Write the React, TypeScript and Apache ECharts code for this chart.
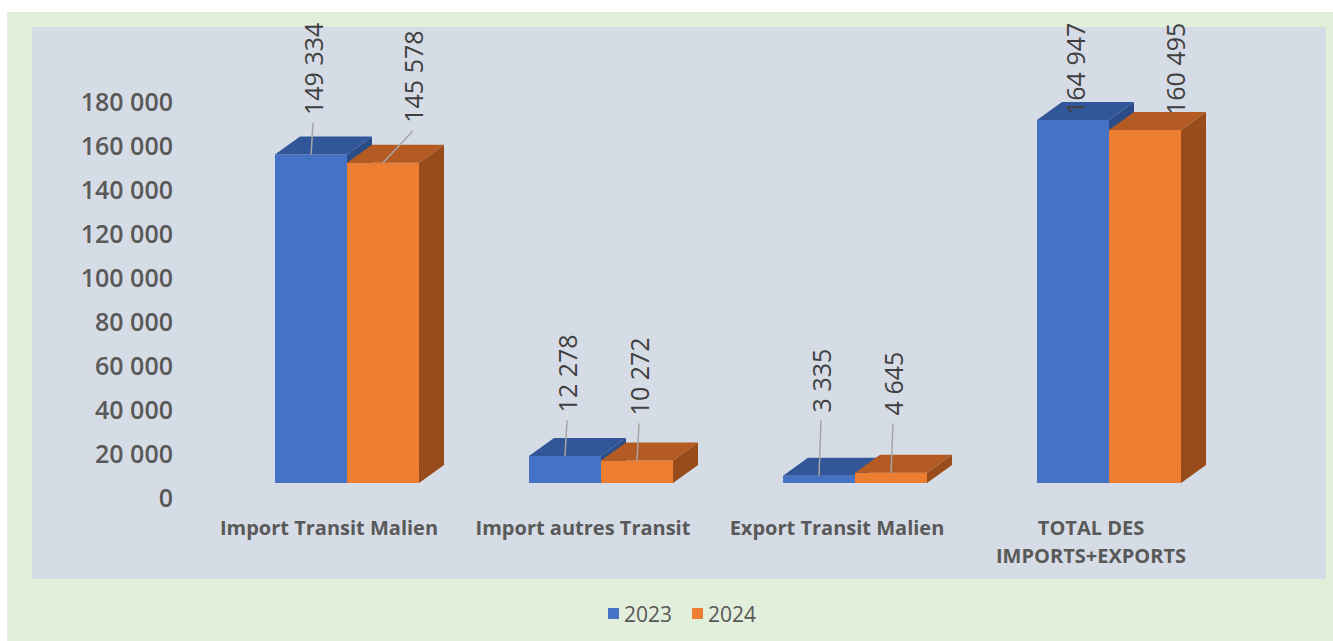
import React, { useEffect, useRef } from "react";
import * as echarts from "echarts";

const categories = [
  "Import Transit Malien",
  "Import autres Transit",
  "Export Transit Malien",
  "TOTAL DES\nIMPORTS+EXPORTS",
];
const seriesNames = ["2023", "2024"];
const values2023 = [149334, 12278, 3335, 164947];
const values2024 = [145578, 10272, 4645, 160495];
const yMax = 180000;
const yInterval = 20000;

const fmt = (v: number) => String(v).replace(/\B(?=(\d{3})+(?!\d))/g, " ");

const palette = [
  { front: "#4472c4", top: "#31579a", side: "#2b4c87" },
  { front: "#ed7d31", top: "#b35b22", side: "#984b1b" },
];

function makeRender(s: number) {
  return (params: any, api: any) => {
    const cat = api.value(0);
    const val = api.value(1);
    const [cx, y] = api.coord([cat, val]);
    const base = api.coord([cat, 0])[1];
    const band = api.size([1, 0])[0];
    const w = band * 0.2835;
    const shift = band * 0.0709;
    const x = s === 0 ? cx - w + shift : cx + shift;
    const dx = 25;
    const dy = 18;
    const c = palette[s];
    const backTop = y - dy;
    const yTop = api.coord([cat, yMax])[1];
    let lb = Math.min(backTop - 22, api.coord([cat, 33000])[1] + 2 + 3 * s);
    lb = Math.max(lb, yTop + 28);
    const lx = x + w / 2 + (s === 1 && val > 100000 ? 30 : 2);
    const children: any[] = [
      {
        type: "rect",
        shape: { x, y, width: w, height: base - y },
        style: { fill: c.front },
      },
      {
        type: "polygon",
        shape: {
          points: [
            [x + w, y],
            [x + w + dx, y - dy],
            [x + w + dx, base - dy],
            [x + w, base],
          ],
        },
        style: { fill: c.side },
      },
      {
        type: "polygon",
        shape: {
          points: [
            [x, y],
            [x + dx, y - dy],
            [x + w + dx, y - dy],
            [x + w, y],
          ],
        },
        style: { fill: c.top },
      },
    ];
    if (y - lb > 20) {
      children.push({
        type: "line",
        shape: { x1: lx, y1: lb + 8, x2: x + w / 2, y2: y },
        style: { stroke: "#a6a6a6", lineWidth: 1.5 },
      });
    }
    children.push({
      type: "text",
      x: lx,
      y: lb,
      rotation: Math.PI / 2,
      style: {
        text: fmt(val),
        fill: "#404040",
        fontSize: 25,
        fontFamily: "Open Sans",
        align: "left",
        verticalAlign: "middle",
      },
    });
    return { type: "group", children };
  };
}

export default function App() {
  const ref = useRef<HTMLDivElement>(null);
  useEffect(() => {
    if (!ref.current) return;
    const chart = echarts.init(ref.current, undefined, { renderer: "svg" });
    const allValues = [values2023, values2024];
    chart.setOption({
      animation: false,
      backgroundColor: "#ffffff",
      textStyle: { fontFamily: "Open Sans" },
      graphic: [
        {
          type: "rect",
          z: -10,
          shape: { x: 7, y: 12, width: 1326, height: 629 },
          style: { fill: "#e2efda" },
          silent: true,
        },
        {
          type: "rect",
          z: -9,
          shape: { x: 32, y: 27, width: 1294, height: 552 },
          style: { fill: "#d6dce5" },
          silent: true,
        },
      ],
      grid: { left: 202, top: 87, width: 1016, height: 396 },
      legend: {
        data: seriesNames,
        left: 603,
        top: 598,
        icon: "rect",
        itemWidth: 11,
        itemHeight: 11,
        itemGap: 20,
        textStyle: { fontSize: 21, color: "#595959", fontFamily: "Open Sans" },
      },
      xAxis: {
        type: "category",
        data: categories,
        axisLine: { show: false },
        axisTick: { show: false },
        axisLabel: {
          interval: 0,
          margin: 30,
          fontSize: 20,
          fontWeight: "bold",
          color: "#595959",
          fontFamily: "Open Sans",
          lineHeight: 28,
        },
      },
      yAxis: {
        type: "value",
        min: 0,
        max: yMax,
        interval: yInterval,
        splitLine: { show: false },
        axisLine: { show: false },
        axisTick: { show: false },
        axisLabel: {
          margin: 29,
          fontSize: 25,
          fontWeight: 600,
          color: "#595959",
          fontFamily: "Open Sans",
          verticalAlign: "top",
          lineHeight: 28,
          formatter: (v: number) => fmt(v),
        },
      },
      series: seriesNames.map((name, s) => ({
        type: "custom",
        name,
        z: 2 + s,
        itemStyle: { color: palette[s].front },
        encode: { x: 0, y: 1 },
        data: allValues[s].map((v, i) => [i, v]),
        renderItem: makeRender(s),
      })),
    });
    return () => chart.dispose();
  }, []);
  return (
    <div
      ref={ref}
      style={{ position: "absolute", left: 0, top: 0, width: 1333, height: 641 }}
    />
  );
}
